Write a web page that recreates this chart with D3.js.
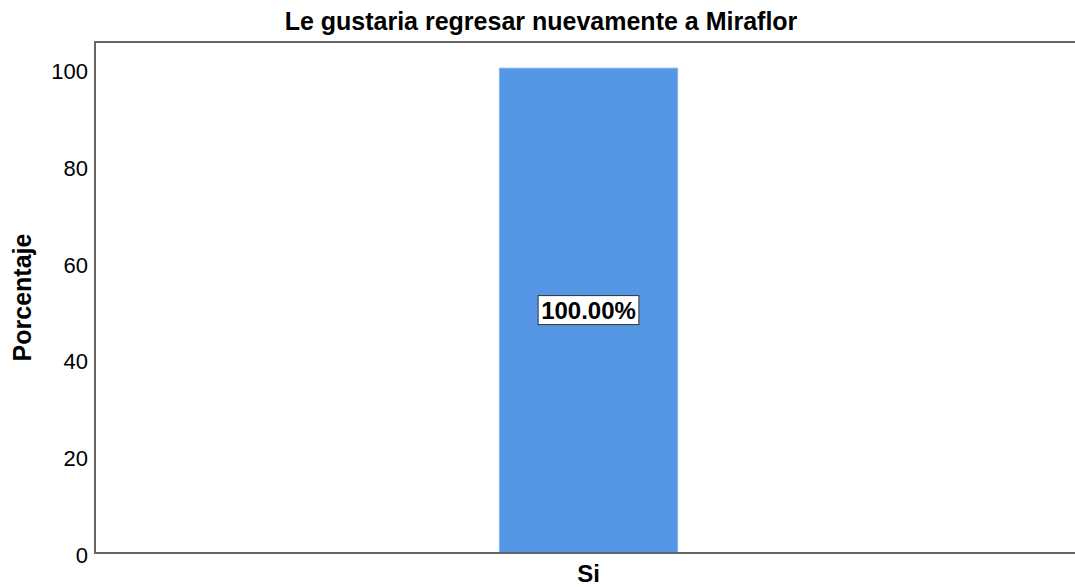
<!DOCTYPE html>
<html>
<head>
<meta charset="utf-8">
<script src="https://cdn.jsdelivr.net/npm/d3@7"></script>
<style>
  html, body { margin: 0; padding: 0; background: #fff; }
  svg { display: block; font-family: "Liberation Sans", Arial, sans-serif; }
</style>
</head>
<body>
<svg id="chart" width="1075" height="587"></svg>
<script>
// Chart data
const title = "Le gustaria regresar nuevamente a Miraflor";
const categories = ["Si"];
const percentages = [100];
const valueLabels = ["100.00%"];
const yTicks = [0, 20, 40, 60, 80, 100];
const yAxisTitle = "Porcentaje";

const W = 1075, H = 587;
const plot = { left: 95, top: 42, right: 1082, bottom: 553 };

const svg = d3.select("#chart");

const y = d3.scaleLinear()
  .domain([0, 105.4])
  .range([plot.bottom, plot.top]);

const x = d3.scaleBand()
  .domain(categories)
  .range([plot.left, plot.right])
  .paddingInner(0)
  .paddingOuter(2.27);

// Title
svg.append("text")
  .attr("x", 541)
  .attr("y", 30)
  .attr("text-anchor", "middle")
  .attr("font-size", 25)
  .attr("font-weight", "bold")
  .attr("fill", "#000")
  .text(title);

// Bars
svg.append("g")
  .selectAll("rect")
  .data(categories)
  .join("rect")
  .attr("x", d => x(d))
  .attr("y", (d, i) => y(percentages[i]))
  .attr("width", x.bandwidth())
  .attr("height", (d, i) => y(0) - y(percentages[i]))
  .attr("fill", "#5596e5")
  .attr("stroke", "#7fb0ee")
  .attr("stroke-width", 1);

// Y axis (labels only, no tick marks)
const yAxis = d3.axisLeft(y).tickValues(yTicks).tickSize(0).tickPadding(7);
const gy = svg.append("g")
  .attr("transform", `translate(${plot.left},0)`)
  .call(yAxis);
gy.select(".domain").remove();
gy.selectAll("text")
  .attr("font-size", 22)
  .attr("dy", "0.45em")
  .attr("font-family", "Liberation Sans, Arial, sans-serif")
  .attr("fill", "#000");

// X axis labels
const xAxis = d3.axisBottom(x).tickSize(0);
const gx = svg.append("g")
  .attr("transform", `translate(0,${plot.bottom})`)
  .call(xAxis);
gx.select(".domain").remove();
gx.selectAll("text")
  .attr("y", 29)
  .attr("dy", 0)
  .attr("font-size", 24)
  .attr("font-weight", "bold")
  .attr("font-family", "Liberation Sans, Arial, sans-serif")
  .attr("fill", "#000");

// Frame: left, top, bottom
const frame = svg.append("g").attr("stroke", "#666").attr("stroke-width", 2).attr("fill", "none");
frame.append("path")
  .attr("d", `M${W},${plot.top}H${plot.left}V${plot.bottom}H${W}`);

// Value labels in boxes
const lbl = svg.append("g")
  .selectAll("g")
  .data(categories)
  .join("g")
  .attr("transform", (d, i) => `translate(${x(d) + x.bandwidth() / 2},${y(percentages[i] / 2)})`);

lbl.append("text")
  .attr("text-anchor", "middle")
  .attr("y", 8.5)
  .attr("font-size", 24)
  .attr("font-weight", "bold")
  .attr("fill", "#000")
  .text((d, i) => valueLabels[i]);

lbl.each(function () {
  const g = d3.select(this);
  const bb = g.select("text").node().getBBox();
  g.insert("rect", "text")
    .attr("x", bb.x - 3)
    .attr("y", -15)
    .attr("width", bb.width + 6)
    .attr("height", 29)
    .attr("fill", "#fff")
    .attr("stroke", "#333")
    .attr("stroke-width", 1);
});

// Y axis title
svg.append("text")
  .attr("transform", `translate(31,${(plot.top + plot.bottom) / 2}) rotate(-90)`)
  .attr("text-anchor", "middle")
  .attr("font-size", 25)
  .attr("font-weight", "bold")
  .attr("fill", "#000")
  .text(yAxisTitle);
</script>
</body>
</html>
